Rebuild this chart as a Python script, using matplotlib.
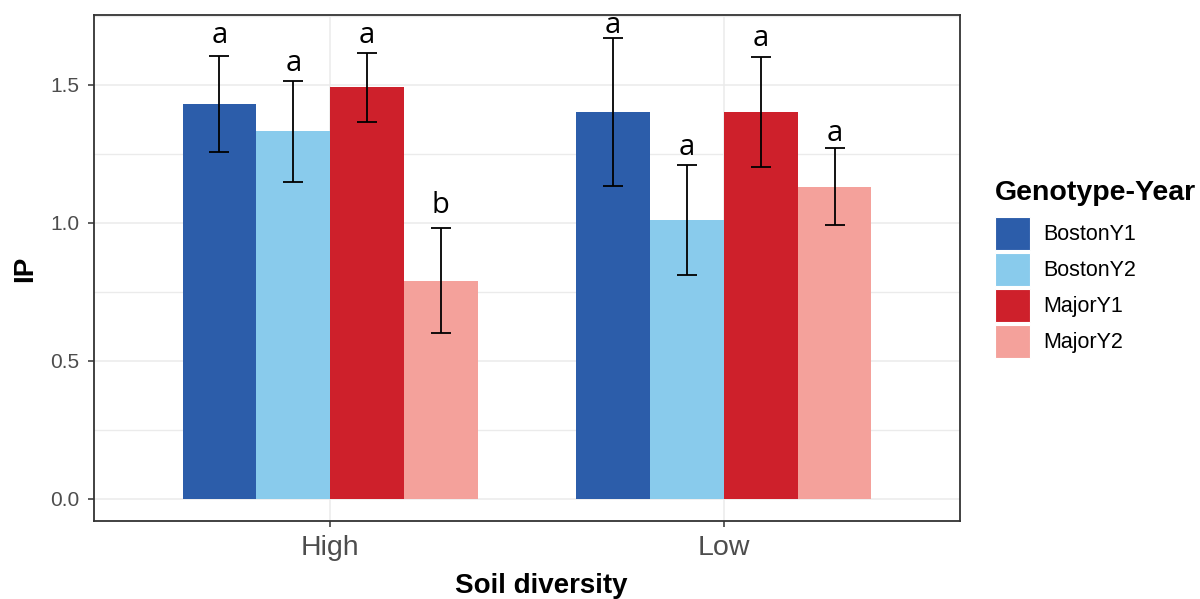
import numpy as np
import matplotlib.pyplot as plt
from matplotlib.patches import Patch
from matplotlib.ticker import MultipleLocator

# data
diversity = ["High", "Low"]
genotypes = ["BostonY1", "BostonY2", "MajorY1", "MajorY2"]
colors = ["#2C5DAA", "#89CBEC", "#CE202B", "#F4A19B"]

ip_high = [1.43, 1.33, 1.49, 0.79]
ip_low = [1.40, 1.01, 1.40, 1.13]
se_high = [0.175, 0.182, 0.126, 0.19]
se_low = [0.267, 0.20, 0.20, 0.14]
letters_high = ["a", "a", "a", "b"]
letters_low = ["a", "a", "a", "a"]
label_y_high = [1.652, 1.550, 1.652, 1.034]
label_y_low = [1.687, 1.245, 1.640, 1.297]

plt.rcParams["font.family"] = ["Liberation Sans", "DejaVu Sans"]

fig = plt.figure(figsize=(12, 5.99), dpi=100)
ax = fig.add_axes([94 / 1200, 1 - 521 / 599, (960 - 94) / 1200, (521 - 15) / 599])

x = np.arange(1, len(diversity) + 1)
width = 0.1875
means = np.array([ip_high, ip_low])
ses = np.array([se_high, se_low])
lab_y = np.array([label_y_high, label_y_low])
letters = [letters_high, letters_low]

for j, g in enumerate(genotypes):
    xpos = x + (j - 1.5) * width
    ax.bar(xpos, means[:, j], width=width, color=colors[j], label=g, zorder=2)
    ax.errorbar(xpos, means[:, j], yerr=ses[:, j], fmt="none", ecolor="black",
                elinewidth=1.3, capsize=7.2, capthick=1.3, zorder=3)
    for i in range(len(diversity)):
        ax.text(xpos[i], lab_y[i, j], letters[i][j], ha="center", va="baseline",
                fontsize=21, family="Open Sans", color="black")

ax.set_xlim(0.4, 2.6)
ax.set_ylim(-0.081, 1.752)
ax.set_xticks(x)
ax.set_xticklabels(diversity)
ax.yaxis.set_major_locator(MultipleLocator(0.5))
ax.yaxis.set_minor_locator(MultipleLocator(0.25))
ax.yaxis.set_major_formatter(plt.FormatStrFormatter("%.1f"))

ax.grid(True, which="major", color="#EBEBEB", lw=1.1, zorder=0)
ax.grid(True, which="minor", axis="y", color="#EBEBEB", lw=1.0, zorder=0)
ax.set_axisbelow(True)
ax.tick_params(axis="y", which="minor", length=0)
ax.tick_params(axis="both", which="major", length=4.5, width=1.1, color="#333333",
               labelcolor="#4D4D4D")
ax.tick_params(axis="y", labelsize=15, pad=6)
ax.tick_params(axis="x", labelsize=20.5, pad=5.5)
for s in ax.spines.values():
    s.set_color("#333333")
    s.set_linewidth(1.3)

fig.text(541 / 1200, 1 - 593 / 599, "Soil diversity", ha="center", va="baseline",
         fontsize=20, fontweight="bold")
fig.text(25 / 1200, 1 - 269 / 599, "IP", ha="center", va="center", rotation=90,
         fontsize=20, fontweight="bold")

# legend title drawn separately so its gap to the keys matches
fig.text(995 / 1200, 1 - 200 / 599, "Genotype-Year", ha="left", va="baseline",
         fontsize=20.5, fontweight="bold")
handles = [Patch(facecolor=c, edgecolor="white", linewidth=0.8) for c in colors]
leg = fig.legend(handles, genotypes, loc="upper left",
                 bbox_to_anchor=(995 / 1200, 1 - 217 / 599), frameon=False,
                 fontsize=15.5, handlelength=1.63, handleheight=1.98,
                 labelspacing=0.14, handletextpad=0.6, borderpad=0, borderaxespad=0)

fig.savefig("out.png", dpi=100)
